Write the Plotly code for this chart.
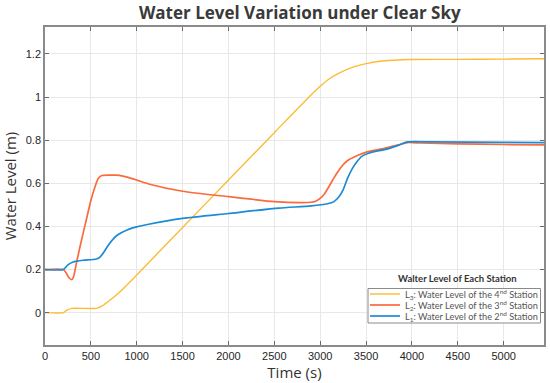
import plotly.graph_objects as go

# Time (s) and water levels (m)
t_l3 = [0, 200, 240, 290, 560, 620, 700, 800, 950, 1500, 2000, 2500, 2900, 3000, 3100, 3200, 3350, 3500, 3650, 3800, 4000, 4500, 5000, 5440]
v_l3 = [0, 0, 0.012, 0.02, 0.02, 0.03, 0.055, 0.09, 0.153, 0.395, 0.615, 0.835, 1.01, 1.05, 1.085, 1.11, 1.138, 1.155, 1.166, 1.171, 1.174, 1.175, 1.176, 1.178]

t_l2 = [0, 200, 230, 260, 290, 310, 350, 400, 450, 500, 550, 580, 620, 700, 780, 850, 950, 1023, 1130, 1500, 2000, 2500, 2800, 2900, 2950, 3000, 3050, 3100, 3150, 3200, 3250, 3300, 3400, 3520, 3700, 3850, 3950, 4100, 4500, 5000, 5440]
v_l2 = [0.2, 0.2, 0.185, 0.163, 0.153, 0.165, 0.245, 0.34, 0.43, 0.52, 0.59, 0.622, 0.636, 0.638, 0.638, 0.633, 0.622, 0.612, 0.597, 0.563, 0.538, 0.515, 0.51, 0.512, 0.517, 0.53, 0.553, 0.588, 0.625, 0.658, 0.686, 0.706, 0.728, 0.747, 0.762, 0.778, 0.789, 0.787, 0.783, 0.78, 0.778]

t_l1 = [0, 200, 250, 300, 350, 420, 560, 600, 640, 690, 740, 790, 900, 1000, 1130, 1500, 2000, 2550, 2900, 3080, 3150, 3200, 3250, 3300, 3350, 3400, 3450, 3520, 3600, 3700, 3850, 3950, 4200, 5000, 5440]
v_l1 = [0.2, 0.2, 0.222, 0.234, 0.239, 0.243, 0.249, 0.258, 0.28, 0.313, 0.34, 0.36, 0.385, 0.398, 0.41, 0.437, 0.46, 0.485, 0.495, 0.505, 0.515, 0.535, 0.57, 0.625, 0.668, 0.7, 0.724, 0.738, 0.748, 0.756, 0.776, 0.792, 0.792, 0.79, 0.789]

names = [
    "L<sub>3</sub>: Water Level of the 4<sup>nd</sup> Station",
    "L<sub>2</sub>: Water Level of the 3<sup>nd</sup> Station",
    "L<sub>1</sub>: Water Level of the 2<sup>nd</sup> Station",
]
legend_title = "Walter Level of Each Station"
x_ticks = [0, 500, 1000, 1500, 2000, 2500, 3000, 3500, 4000, 4500, 5000]
y_ticks = [0, 0.2, 0.4, 0.6, 0.8, 1, 1.2]

colors = ["#FDBB35", "#FB6A3C", "#1C8BD4"]
widths = [1.4, 1.7, 1.7]

fig = go.Figure()
for t, v, n, c, w in zip([t_l3, t_l2, t_l1], [v_l3, v_l2, v_l1], names, colors, widths):
    fig.add_trace(go.Scatter(x=t, y=v, mode="lines", name=n, showlegend=False,
                             line=dict(color=c, width=w, shape="spline", smoothing=0.6)))

axis_common = dict(showgrid=True, gridcolor="#e8e8e8", gridwidth=1,
                   showline=True, linecolor="#8a8a8a", linewidth=1.5, mirror="ticks",
                   ticks="inside", ticklen=4, tickcolor="#6a6a6a", zeroline=False,
                   tickfont=dict(family="Liberation Sans, Arial", size=11, color="#262626"))

# plot-area geometry in pixels (for placing the hand-drawn legend)
W, H = 550, 383
ML, MR, MT, MB = 45, 6, 27, 38
PW, PH = W - ML - MR, H - MT - MB


def px(x):
    return (x - ML) / PW


def py(y):
    return (H - MB - y) / PH


fig.update_layout(
    width=W, height=H,
    margin=dict(l=ML, r=MR, t=MT, b=MB, autoexpand=False),
    paper_bgcolor="white", plot_bgcolor="white",
    title=dict(text="<b>Water Level Variation under Clear Sky</b>", x=0.545, xanchor="center",
               y=1 - 13 / H, yanchor="middle",
               font=dict(family="Open Sans", size=17, color="#3a3a3a")),
    xaxis=dict(range=[0, 5440], tickvals=x_ticks,
               title=dict(text="Time (s)", standoff=3,
                          font=dict(family="Open Sans", size=15, color="#333333")),
               **axis_common),
    yaxis=dict(range=[-0.15, 1.325], tickvals=y_ticks,
               title=dict(text="Water Level (m)", standoff=6,
                          font=dict(family="Open Sans", size=15, color="#333333")),
               **axis_common),
    showlegend=False,
)

# legend (drawn by hand to match the compact MATLAB style)
fig.add_shape(type="rect", xref="paper", yref="paper",
              x0=px(368), x1=px(540.5), y0=py(323), y1=py(288.5),
              line=dict(color="#8a8a8a", width=1), fillcolor="white", layer="above")
fig.add_annotation(text="<b>" + legend_title + "</b>", xref="paper", yref="paper",
                   x=px(457), y=py(278), xanchor="center", yanchor="middle", showarrow=False,
                   font=dict(family="Lato", size=9.5, color="#333333"))
for i, (n, c, w) in enumerate(zip(names, colors, widths)):
    yy = 294 + i * 11
    fig.add_shape(type="line", xref="paper", yref="paper",
                  x0=px(370), x1=px(400), y0=py(yy), y1=py(yy),
                  line=dict(color=c, width=w), layer="above")
    fig.add_annotation(text=n, xref="paper", yref="paper",
                       x=px(403), y=py(yy), xanchor="left", yanchor="middle", showarrow=False,
                       font=dict(family="Lato", size=9.2, color="#555555"))

fig.write_html("out.html", config={"displayModeBar": False},
               post_script="document.body.style.margin='0';document.body.style.overflow='hidden';")
